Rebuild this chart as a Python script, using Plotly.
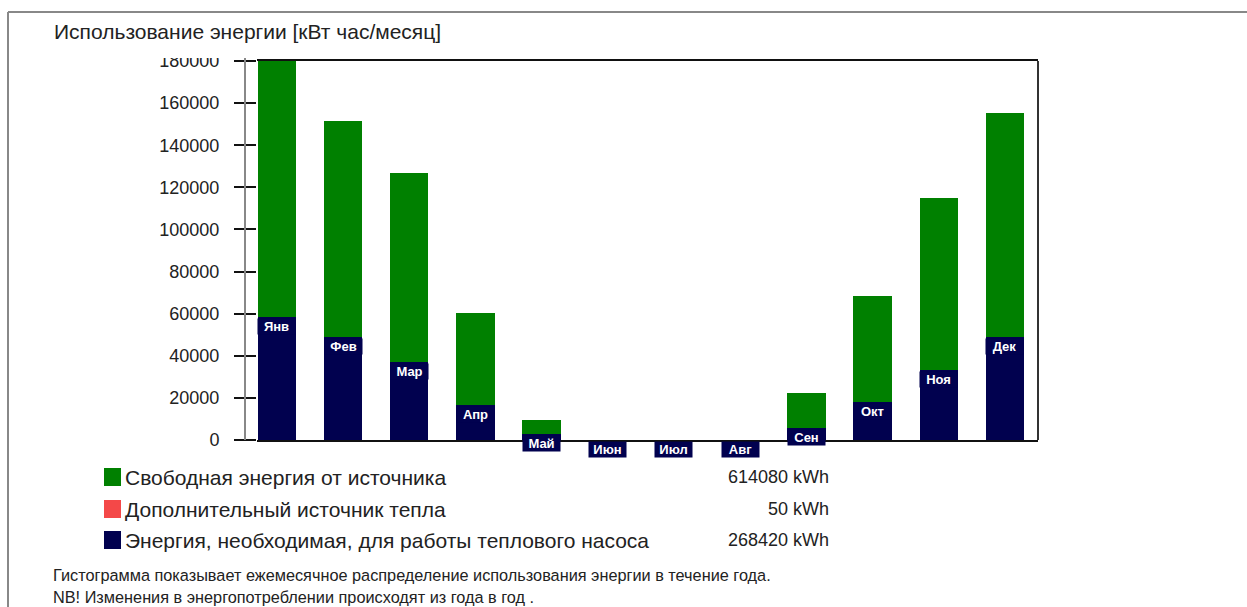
import plotly.graph_objects as go

months = ["Янв", "Фев", "Мар", "Апр", "Май", "Июн", "Июл", "Авг", "Сен", "Окт", "Ноя", "Дек"]
heat_pump = [58500, 49000, 36900, 16500, 3000, 0, 0, 0, 5500, 17900, 33200, 49100]
extra_heat = [50, 0, 0, 0, 0, 0, 0, 0, 0, 0, 0, 0]
free_energy = [122000, 102600, 89700, 43800, 6600, 0, 0, 0, 17000, 50500, 81900, 106000]

series_names = ["Свободная энергия от источника", "Дополнительный источник тепла",
                "Энергия, необходимая, для работы теплового насоса"]
series_totals = ["614080 kWh", "50 kWh", "268420 kWh"]
title_text = "Использование энергии [кВт час/месяц]"
footer_lines = ["Гистограмма показывает ежемесячное распределение использования энергии в течение года.",
                "NB! Изменения в энергопотреблении происходят из года в год ."]
y_ticks = [0, 20000, 40000, 60000, 80000, 100000, 120000, 140000, 160000, 180000]

GREEN = "#008000"
RED = "#f44848"
NAVY = "#01014f"
TEXT = "#222222"
FONT = "Liberation Sans, Arial, sans-serif"

W, H = 1247, 607
L, R, T, B = 257, 1038, 61, 440


def px(x):
    return (x - L) / (R - L)


def py(y):
    return (B - y) / (B - T)


fig = go.Figure()
fig.add_bar(x=months, y=heat_pump, marker_color=NAVY, marker_line_width=0, name=series_names[2])
fig.add_bar(x=months, y=extra_heat, marker_color=RED, marker_line_width=0, name=series_names[1])
fig.add_bar(x=months, y=free_energy, marker_color=GREEN, marker_line_width=0, name=series_names[0])

annotations = []
for m, v in zip(months, heat_pump):
    annotations.append(dict(x=m, y=v, xref="x", yref="y", text="<b>%s</b>" % m,
                            showarrow=False, yanchor="top", xanchor="center", yshift=-1,
                            bgcolor=NAVY, width=37, height=15, borderpad=0,
                            font=dict(family=FONT, size=13, color="white")))

annotations.append(dict(x=px(52), y=py(32), xref="paper", yref="paper", text=title_text,
                        showarrow=False, xanchor="left", yanchor="middle",
                        font=dict(family=FONT, size=21, color=TEXT)))

legend_colors = [GREEN, RED, NAVY]
legend_rows = [477, 509, 540]
shapes = []
for name, total, col, yr in zip(series_names, series_totals, legend_colors, legend_rows):
    shapes.append(dict(type="rect", xref="paper", yref="paper", x0=px(104), x1=px(121),
                       y0=py(yr + 9), y1=py(yr - 9), fillcolor=col, line_width=0))
    annotations.append(dict(x=px(123), y=py(yr), xref="paper", yref="paper", text=name,
                            showarrow=False, xanchor="left", yanchor="middle",
                            font=dict(family=FONT, size=21, color=TEXT)))
    annotations.append(dict(x=px(831), y=py(yr), xref="paper", yref="paper", text=total,
                            showarrow=False, xanchor="right", yanchor="middle",
                            font=dict(family=FONT, size=18, color=TEXT)))

for line, yr in zip(footer_lines, [575, 597]):
    annotations.append(dict(x=px(51), y=py(yr), xref="paper", yref="paper", text=line,
                            showarrow=False, xanchor="left", yanchor="middle",
                            font=dict(family=FONT, size=16.3, color=TEXT)))

# grey axis line left of the plot, right frame line, outer border
shapes.append(dict(type="line", xref="paper", yref="paper", x0=px(245), x1=px(245),
                   y0=py(440), y1=py(58), line=dict(color="#888888", width=2)))
shapes.append(dict(type="line", xref="paper", yref="paper", x0=1, x1=1,
                   y0=0, y1=1, line=dict(color="#333333", width=2)))
shapes.append(dict(type="line", xref="paper", yref="paper", x0=px(8), x1=px(1247),
                   y0=py(12), y1=py(12), line=dict(color="#888888", width=2)))
shapes.append(dict(type="line", xref="paper", yref="paper", x0=px(8), x1=px(8),
                   y0=py(12), y1=py(607), line=dict(color="#888888", width=2)))
# cover hiding upper part of the top tick label (as in the reference)
shapes.append(dict(type="rect", xref="paper", yref="paper", x0=px(140), x1=px(232),
                   y0=py(58), y1=py(44), fillcolor="white", line_width=0, layer="above"))

fig.update_layout(
    width=W, height=H,
    margin=dict(l=L, r=W - R, t=T, b=H - B, pad=0),
    paper_bgcolor="white", plot_bgcolor="white",
    barmode="stack", bargap=0.42,
    showlegend=False, hovermode=False,
    font=dict(family=FONT, color=TEXT),
    annotations=annotations, shapes=shapes,
    xaxis=dict(range=[-0.3, 11.5], showticklabels=False, ticks="", showgrid=False,
               showline=True, mirror=True, linecolor="#111111", linewidth=2, zeroline=False),
    yaxis=dict(range=[0, 180000], tickvals=y_ticks, tickformat="d",
               showgrid=False, zeroline=False, showline=False,
               ticks="outside", ticklen=22, tickwidth=2, tickcolor="#111111",
               ticklabelstandoff=11, tickfont=dict(family=FONT, size=18, color=TEXT)),
)

fig.write_html("out.html", config={"displayModeBar": False},
               post_script="document.body.style.margin='0';document.body.style.overflow='hidden';")
